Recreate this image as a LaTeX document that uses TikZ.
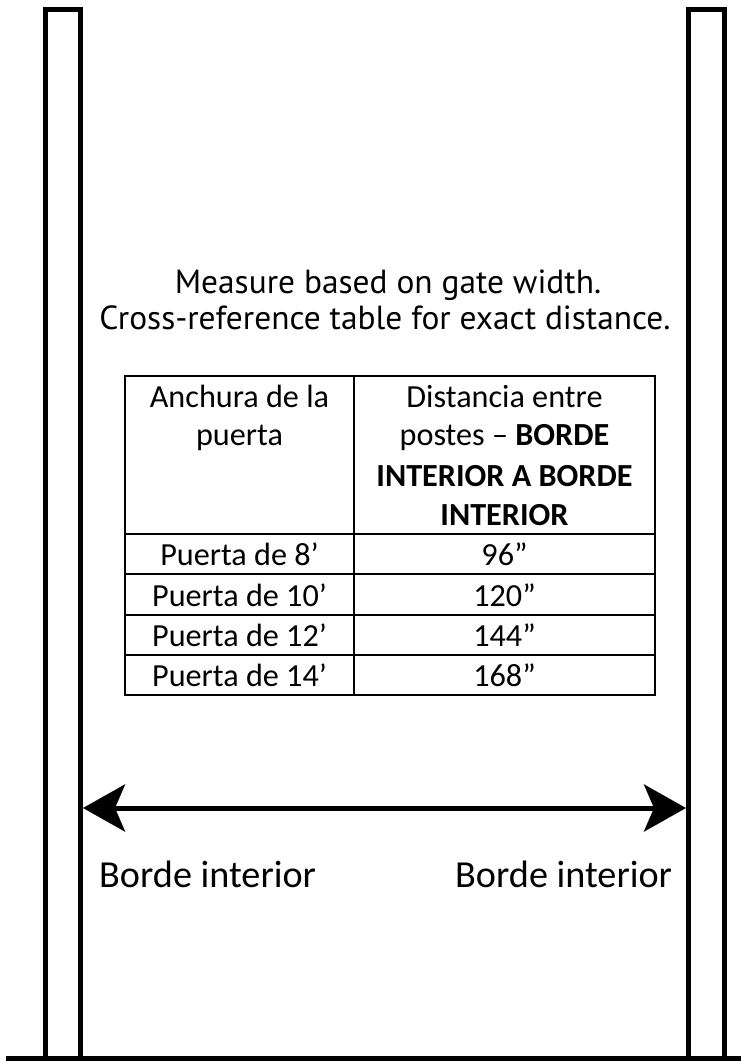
\documentclass[tikz,border=0pt]{standalone}
\usepackage{fontspec}
\setmainfont{Carlito}
\newfontfamily\titlefont{PT Sans}
\usetikzlibrary{arrows.meta}
\begin{document}
\begin{tikzpicture}[x=1pt,y=-1pt,
  post/.style={line width=5pt, line join=miter},
  ground/.style={line width=4.5pt},
  tabline/.style={line width=2.5pt},
  title/.style={font=\titlefont\fontsize{33.4}{34}\selectfont, anchor=base, inner sep=0pt},
  cell/.style={font=\fontsize{32.2}{39}\selectfont, anchor=base, inner sep=0pt},
  label/.style={font=\fontsize{38.2}{40}\selectfont, anchor=base west, inner sep=0pt},
  dimarrow/.style={line width=5pt, {Stealth[length=42pt,width=47pt,inset=10pt]}-{Stealth[length=42pt,width=47pt,inset=10pt]}}]
\useasboundingbox (0,0) rectangle (741,1061);
% posts
\draw[post] (45.5,1058) -- (45.5,9.5) -- (80.5,9.5) -- (80.5,1058);
\draw[post] (688.5,1058) -- (688.5,9.5) -- (724.5,9.5) -- (724.5,1058);
\draw[ground] (6,1058.5) -- (741,1058.5);
% dimension arrow
\coordinate (leftinner) at (83,808);
\coordinate (rightinner) at (686,808);
\draw[dimarrow] (leftinner) -- (rightinner);
% title
\node[title] (t1) at (388,293) {Measure based on gate width.};
\node[title] (t2) at (385,329) {Cross-reference table for exact distance.};
% table
\draw[tabline] (125,376) rectangle (655,695);
\draw[tabline] (354,376) -- (354,695);
\foreach \yy in {534,574,615,655} \draw[tabline] (125,\yy) -- (655,\yy);
\node[cell] (h1a) at (239.5,407) {Anchura de la};
\node[cell] (h1b) at (239.5,445) {puerta};
\node[cell] (h2a) at (504.5,407) {Distancia entre};
\node[cell] (h2b) at (504.5,445) {postes – \textbf{BORDE}};
\node[cell] (h2c) at (504.5,486) {\textbf{INTERIOR A BORDE}};
\node[cell] (h2d) at (504.5,525) {\textbf{INTERIOR}};
\node[cell] (r1a) at (239.5,565) {Puerta de 8’};
\node[cell] (r1b) at (504.5,565) {96”};
\node[cell] (r2a) at (239.5,606) {Puerta de 10’};
\node[cell] (r2b) at (504.5,606) {120”};
\node[cell] (r3a) at (239.5,646) {Puerta de 12’};
\node[cell] (r3b) at (504.5,646) {144”};
\node[cell] (r4a) at (239.5,686) {Puerta de 14’};
\node[cell] (r4b) at (504.5,686) {168”};
% labels
\node[label] (bl) at (99,887) {Borde interior};
\node[label] (br) at (455,887) {Borde interior};
\end{tikzpicture}
\end{document}
